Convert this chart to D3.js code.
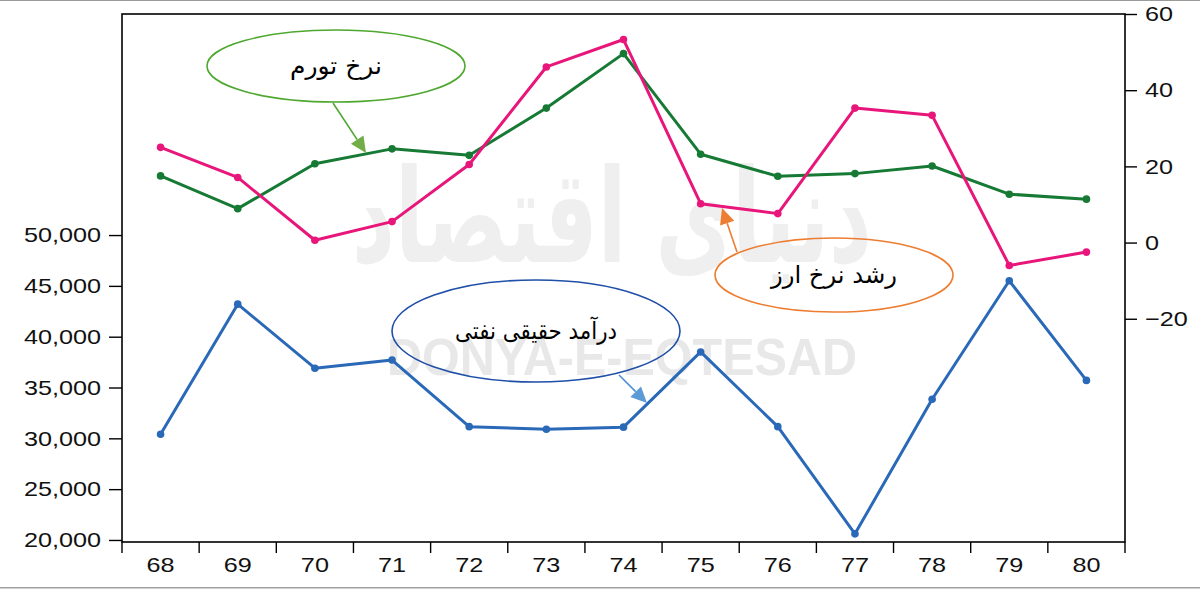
<!DOCTYPE html>
<html>
<head>
<meta charset="utf-8">
<script src="https://cdn.jsdelivr.net/npm/d3@7"></script>
<style>
  html, body { margin: 0; padding: 0; background: #fff; }
  svg { display: block; }
</style>
</head>
<body>
<svg id="chart" width="1200" height="590"></svg>
<script>
// ---- data ----
const years = ["68","69","70","71","72","73","74","75","76","77","78","79","80"];
const oilIncome = [30400, 43200, 36900, 37700, 31150, 30900, 31100, 38500, 31150, 20600, 33850, 45500, 35700]; // left axis
const fxGrowth  = [25.0, 17.1, 0.6, 5.5, 20.5, 46.1, 53.3, 10.2, 7.6, 35.3, 33.4, -6.0, -2.5];            // right axis
const inflation = [17.5, 8.9, 20.7, 24.6, 22.9, 35.3, 49.6, 23.2, 17.4, 18.1, 20.1, 12.7, 11.4];          // right axis
const leftTicks  = [20000, 25000, 30000, 35000, 40000, 45000, 50000];
const rightTicks = [-20, 0, 20, 40, 60];
const labels = {
  inflation: "نرخ تورم",
  fx: "رشد نرخ ارز",
  oil: "درآمد حقیقی نفتی",
  wmLatin: "DONYA-E-EQTESAD",
  wmFarsi: "دنیای اقتصاد"
};

// ---- layout ----
const L = 122, R = 1125, T = 14, B = 542;
const svg = d3.select("#chart");

const x = d3.scaleBand().domain(years).range([L, R]);
const yL = d3.scaleLinear().domain([19800, 71750]).range([B, T]);
const yR = d3.scaleLinear().domain([-78.6, 60]).range([B, T]);
const cx = d => x(d) + x.bandwidth() / 2;

// page border lines
svg.append("line").attr("x1", 0).attr("x2", 1200).attr("y1", 0.5).attr("y2", 0.5).attr("stroke", "#9a9a9a").attr("stroke-width", 1);
svg.append("rect").attr("x", 0).attr("y", 587).attr("width", 1200).attr("height", 1.5).attr("fill", "#a0a0a0");

// watermarks
const wm = svg.append("text").text(labels.wmFarsi)
  .attr("x", 0).attr("y", 0)
  .attr("text-anchor", "middle")
  .attr("font-family", "DejaVu Sans")
  .attr("font-weight", "bold")
  .attr("font-size", 130)
  .attr("fill", "#efefef");
const wmW = wm.node().getComputedTextLength();
wm.attr("transform", `translate(612,262) scale(${520 / wmW},1)`);
svg.append("text").text(labels.wmLatin)
  .attr("x", 387).attr("y", 375)
  .attr("font-family", "Liberation Sans")
  .attr("font-weight", "bold")
  .attr("font-size", 52)
  .attr("textLength", 470).attr("lengthAdjust", "spacingAndGlyphs")
  .attr("fill", "#e8e8e8");

// frame
svg.append("rect").attr("x", L).attr("y", T).attr("width", R - L).attr("height", B - T)
  .attr("fill", "none").attr("stroke", "#000").attr("stroke-width", 1.6);

const tickFont = "Liberation Sans";
function styleTicks(sel) {
  sel.attr("font-family", tickFont).attr("font-size", 21).attr("fill", "#111")
    .each(function () {
      const w = this.getComputedTextLength();
      d3.select(this).attr("textLength", w * 1.2).attr("lengthAdjust", "spacingAndGlyphs");
    });
}

// left axis
const gL = svg.append("g").attr("transform", `translate(${L},0)`)
  .call(d3.axisLeft(yL).tickValues(leftTicks).tickFormat(d3.format(",")).tickSize(13).tickPadding(8));
gL.select(".domain").remove();
gL.selectAll("line").attr("stroke", "#000").attr("stroke-width", 1.4);
styleTicks(gL.selectAll("text"));

// right axis
const gR = svg.append("g").attr("transform", `translate(${R},0)`)
  .call(d3.axisRight(yR).tickValues(rightTicks).tickSize(12).tickPadding(8));
gR.select(".domain").remove();
gR.selectAll("line").attr("stroke", "#000").attr("stroke-width", 1.4);
styleTicks(gR.selectAll("text"));

// bottom axis: labels at band centers, ticks at band edges
const gB = svg.append("g").attr("transform", `translate(0,${B})`)
  .call(d3.axisBottom(x).tickSize(0).tickPadding(15));
gB.select(".domain").remove();
styleTicks(gB.selectAll("text"));
const edges = years.map(d => x(d)).concat([x.range()[1]]);
svg.append("g").selectAll("line").data(edges).join("line")
  .attr("x1", d => d).attr("x2", d => d).attr("y1", B).attr("y2", B + 11)
  .attr("stroke", "#000").attr("stroke-width", 1.4);

// series
function drawSeries(values, yScale, color) {
  const pts = years.map((d, i) => [cx(d), yScale(values[i])]);
  svg.append("path").datum(pts)
    .attr("d", d3.line())
    .attr("fill", "none").attr("stroke", color).attr("stroke-width", 3)
    .attr("stroke-linejoin", "round");
  svg.append("g").selectAll("circle").data(pts).join("circle")
    .attr("cx", p => p[0]).attr("cy", p => p[1]).attr("r", 3.8).attr("fill", color);
}
drawSeries(oilIncome, yL, "#2a69b8");
drawSeries(inflation, yR, "#167a35");
drawSeries(fxGrowth, yR, "#e8167a");

// callouts
function arrow(x1, y1, x2, y2, lineColor, headColor) {
  const ang = Math.atan2(y2 - y1, x2 - x1);
  const len = 16, w = 7.5;
  const bx = x2 - len * Math.cos(ang), by = y2 - len * Math.sin(ang);
  svg.append("line").attr("x1", x1).attr("y1", y1).attr("x2", bx).attr("y2", by)
    .attr("stroke", lineColor).attr("stroke-width", 1.6);
  const px = -Math.sin(ang) * w, py = Math.cos(ang) * w;
  svg.append("path")
    .attr("d", `M${x2},${y2}L${bx + px},${by + py}L${bx - px},${by - py}Z`)
    .attr("fill", headColor);
}
function callout(cxp, cyp, rx, ry, stroke, text, width) {
  svg.append("ellipse").attr("cx", cxp).attr("cy", cyp).attr("rx", rx).attr("ry", ry)
    .attr("fill", "none").attr("stroke", stroke).attr("stroke-width", 1.6);
  svg.append("text").text(text)
    .attr("x", cxp).attr("y", cyp)
    .attr("text-anchor", "middle").attr("dominant-baseline", "central")
    .attr("font-family", "DejaVu Sans").attr("font-size", 24).attr("fill", "#000")
    .attr("textLength", width).attr("lengthAdjust", "spacingAndGlyphs");
}
arrow(333, 103, 366, 153, "#4ea72e", "#70ad47");
callout(336, 66, 129, 36, "#4ea72e", labels.inflation, 92);
arrow(737, 252, 722, 208, "#ed7d31", "#ed7d31");
callout(834, 275, 119, 37, "#ed7d31", labels.fx, 126);
arrow(619, 375, 647, 403, "#4a90d9", "#5b9bd5");
callout(536, 331, 144, 51, "#1f4fa8", labels.oil, 162);
</script>
</body>
</html>
